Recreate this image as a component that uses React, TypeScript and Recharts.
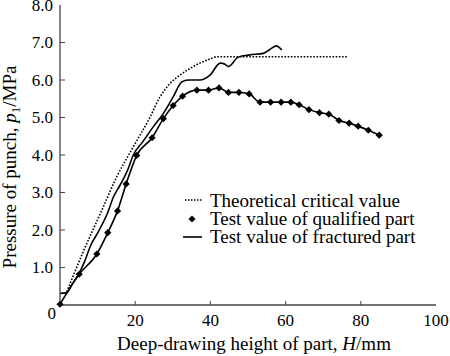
import { LineChart, Line, XAxis, YAxis, Legend, Label } from "recharts"

// deep-drawing height H (mm) / punch pressure p1 (MPa)
const theoryH = [1.8, 6, 11, 15.1, 19.5, 23.9, 26.6, 29.3, 31.9, 34.6, 37.2, 39.9, 41.7, 50, 60, 76.7]
const theoryP = [0.35, 1.38, 2.5, 3.42, 4.22, 5.0, 5.55, 5.91, 6.13, 6.31, 6.45, 6.56, 6.62, 6.62, 6.62, 6.62]

const qualifiedH = [0, 5.1, 9.8, 12.7, 15.3, 17.6, 20.4, 24.5, 27.5, 30.1, 32.6, 36.4, 39.5, 42.3, 44.8, 47.6, 50.3, 53.2, 56.0, 58.8, 61.4, 63.6, 66.2, 69.0, 71.5, 74.2, 76.9, 79.3, 82.0, 84.9]
const qualifiedP = [0.02, 0.82, 1.36, 1.93, 2.51, 3.23, 3.99, 4.46, 4.97, 5.32, 5.57, 5.73, 5.73, 5.79, 5.67, 5.67, 5.63, 5.41, 5.41, 5.41, 5.41, 5.34, 5.21, 5.13, 5.09, 4.92, 4.85, 4.77, 4.66, 4.53]

const fracturedH = [0, 1.8, 3.2, 5.1, 6.5, 8.2, 10, 12.5, 14.3, 16, 18, 19.5, 22, 24.8, 27.5, 30.1, 32.4, 34.1, 37.2, 39.9, 42.6, 43.9, 44.8, 47.4, 50.5, 54.1, 55.9, 57.6, 58.5, 59]
const fracturedP = [0.31, 0.33, 0.55, 0.85, 1.15, 1.6, 1.92, 2.42, 2.9, 3.2, 3.6, 4.0, 4.35, 4.75, 5.11, 5.55, 5.95, 6.0, 6.0, 6.13, 6.45, 6.42, 6.36, 6.61, 6.67, 6.71, 6.82, 6.91, 6.85, 6.8]

const xTicks = [0, 20, 40, 60, 80, 100]
const yTicks = [0, 1, 2, 3, 4, 5, 6, 7, 8]

const legendNames = ["Theoretical critical value", "Test value of qualified part", "Test value of fractured part"]

const toRows = (h: number[], p: number[]) => h.map((v, i) => ({ h: v, p: p[i] }))

const serif = '"Liberation Serif", "DejaVu Serif", serif'
const axisColor = "#444"

const Diamond = (props: any) => {
  const { cx, cy } = props
  if (cx == null || cy == null) return null
  const r = 3.6
  return <path d={`M${cx},${cy - r}L${cx + r},${cy}L${cx},${cy + r}L${cx - r},${cy}Z`} fill="#000" />
}

const XTick = ({ x, y, payload }: any) => {
  const v = payload.value
  if (v === 0) return null
  return (
    <g>
      {v < 100 && <line x1={x} y1={y} x2={x} y2={y - 4} stroke={axisColor} />}
      <text x={x} y={y + 21} textAnchor="middle" fontSize={17} fontFamily={serif} fill="#000">
        {v}
      </text>
    </g>
  )
}

const YTick = ({ x, y, payload }: any) => {
  const v = payload.value
  return (
    <g>
      {v > 0 && v < 8 && <line x1={x} y1={y} x2={x + 5} y2={y} stroke={axisColor} />}
      <text
        x={v === 0 ? x - 4 : x - 7}
        y={v === 0 ? y + 8 : y}
        dy="0.35em"
        textAnchor="end"
        fontSize={17}
        fontFamily={serif}
        fill="#000"
      >
        {v === 0 ? "0" : v.toFixed(1)}
      </text>
    </g>
  )
}

const LegendBox = () => (
  <div style={{ fontFamily: serif, fontSize: 19, color: "#000" }}>
    {legendNames.map((name, i) => (
      <div key={name} style={{ display: "flex", alignItems: "center", height: 18.4, whiteSpace: "nowrap" }}>
        <svg width={29} height={18} style={{ flex: "none" }}>
          {i === 0 && <line x1={4} y1={9} x2={21} y2={9} stroke="#000" strokeWidth={1.5} strokeDasharray="1.5 1.5" />}
          {i === 1 && <path d="M11,5.4L14.6,9L11,12.6L7.4,9Z" fill="#000" />}
          {i === 2 && <line x1={2} y1={9} x2={21} y2={9} stroke="#000" strokeWidth={1.6} />}
        </svg>
        <span style={{ lineHeight: "17px" }}>{name}</span>
      </div>
    ))}
  </div>
)

export default function App() {
  return (
    <div style={{ position: "absolute", left: 0, top: 0, width: 450, height: 356, background: "#fff" }}>
      <LineChart width={450} height={356} margin={{ top: 5, right: 14, bottom: 0, left: 0 }}>
        <XAxis
          dataKey="h"
          type="number"
          domain={[0, 100]}
          ticks={xTicks}
          interval={0}
          tickSize={0}
          tickMargin={0}
          tickLine={false}
          tick={<XTick />}
          stroke={axisColor}
          strokeWidth={1.3}
          height={51}
        >
          <Label
            content={({ viewBox }: any) => (
              <text
                x={viewBox.x + viewBox.width / 2 + 6}
                y={viewBox.y + 45}
                textAnchor="middle"
                fontSize={19}
                fontFamily={serif}
                fill="#000"
              >
                Deep-drawing height of part, <tspan fontStyle="italic">H</tspan>/mm
              </text>
            )}
          />
        </XAxis>
        <XAxis
          xAxisId="top"
          orientation="top"
          type="number"
          domain={[0, 100]}
          height={0}
          tick={false}
          tickLine={false}
          stroke={axisColor}
          strokeWidth={1.3}
        />
        <YAxis
          type="number"
          domain={[0, 8]}
          ticks={yTicks}
          interval={0}
          tickSize={0}
          tickMargin={0}
          tickLine={false}
          tick={<YTick />}
          stroke={axisColor}
          strokeWidth={1.3}
          width={60}
        >
          <Label
            content={({ viewBox }: any) => {
              const cx = viewBox.x + 16
              const cy = viewBox.y + viewBox.height / 2 + 12
              return (
                <text
                  x={cx}
                  y={cy}
                  transform={`rotate(-90, ${cx}, ${cy})`}
                  textAnchor="middle"
                  fontSize={19}
                  fontFamily={serif}
                  fill="#000"
                >
                  Pressure of punch, <tspan fontStyle="italic">p</tspan>
                  <tspan fontSize={13} dy={4}>1</tspan>
                  <tspan dy={-4}>/MPa</tspan>
                </text>
              )
            }}
          />
        </YAxis>
        <YAxis
          yAxisId="right"
          orientation="right"
          type="number"
          domain={[0, 8]}
          width={0}
          tick={false}
          tickLine={false}
          stroke={axisColor}
          strokeWidth={1.3}
        />
        <Legend
          layout="vertical"
          align="center"
          verticalAlign="middle"
          content={() => <LegendBox />}
          wrapperStyle={{ left: 181, top: 191, width: 260 }}
        />
        <Line
          data={toRows(theoryH, theoryP)}
          dataKey="p"
          name={legendNames[0]}
          type="monotone"
          stroke="#000"
          strokeWidth={1.6}
          strokeDasharray="1.6 1.6"
          dot={false}
          activeDot={false}
          isAnimationActive={false}
        />
        <Line
          data={toRows(qualifiedH, qualifiedP)}
          dataKey="p"
          name={legendNames[1]}
          type="monotone"
          stroke="#000"
          strokeWidth={1.6}
          dot={<Diamond />}
          activeDot={false}
          isAnimationActive={false}
        />
        <Line
          data={toRows(fracturedH, fracturedP)}
          dataKey="p"
          name={legendNames[2]}
          type="monotone"
          stroke="#000"
          strokeWidth={1.6}
          dot={false}
          activeDot={false}
          isAnimationActive={false}
        />
      </LineChart>
    </div>
  )
}
